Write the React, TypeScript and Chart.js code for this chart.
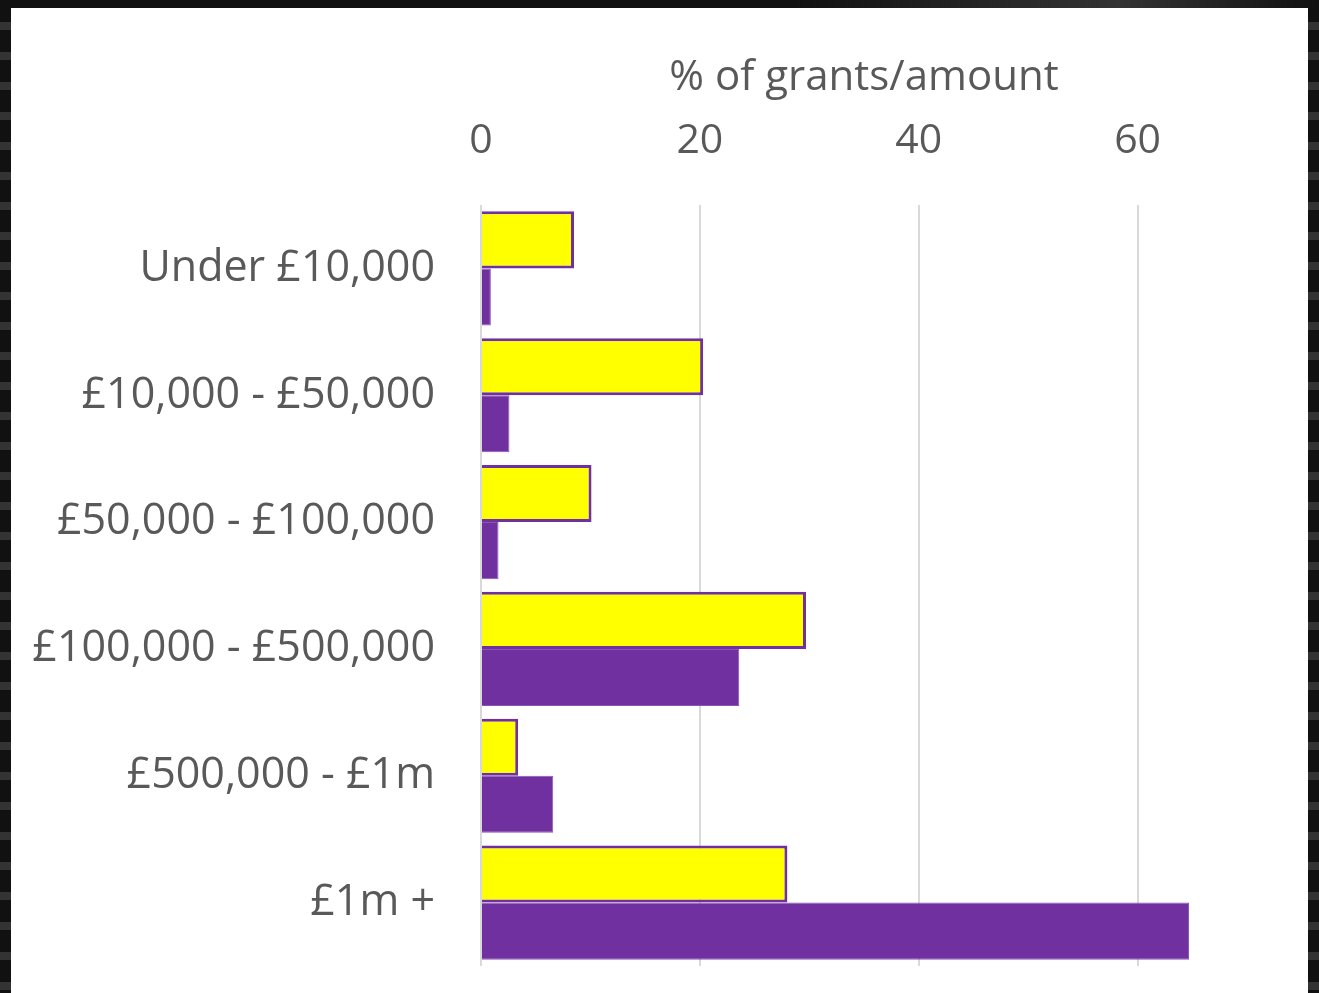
import React, { useEffect, useRef } from "react";
import { Chart, registerables } from "chart.js";

Chart.register(...registerables);

const categories = [
  "Under £10,000",
  "£10,000 - £50,000",
  "£50,000 - £100,000",
  "£100,000 - £500,000",
  "£500,000 - £1m",
  "£1m +",
];
const grantsPct = [8.5, 20.3, 10.1, 29.7, 3.4, 28.0];
const amountPct = [0.9, 2.6, 1.6, 23.6, 6.6, 64.7];
const axisTitle = "% of grants/amount";
const axisMax = 70;
const axisStep = 20;

const FONT = "'Open Sans', 'DejaVu Sans', sans-serif";
const TEXT = "#595959";

export default function App() {
  const ref = useRef<HTMLCanvasElement | null>(null);

  useEffect(() => {
    if (!ref.current) return;
    const chart = new Chart(ref.current, {
      type: "bar",
      data: {
        labels: categories,
        datasets: [
          {
            label: "% of grants",
            data: grantsPct,
            backgroundColor: "#FFFF00",
            borderColor: "#7030A0",
            borderWidth: 3,
            categoryPercentage: 0.9,
            barPercentage: 1.0,
          },
          {
            label: "% of amount",
            data: amountPct,
            backgroundColor: "#7030A0",
            borderColor: "#8a55b8",
            borderWidth: 1,
            categoryPercentage: 0.9,
            barPercentage: 1.0,
          },
        ],
      },
      options: {
        indexAxis: "y",
        responsive: false,
        animation: false,
        maintainAspectRatio: false,
        layout: { padding: { top: 45, right: 61, bottom: 27, left: 0 } },
        plugins: {
          legend: { display: false },
          tooltip: { enabled: false },
        },
        scales: {
          x: {
            position: "top",
            min: 0,
            max: axisMax,
            afterBuildTicks: (scale: any) => {
              scale.ticks = scale.ticks.filter((t: any) => t.value % axisStep === 0);
            },
            afterFit: (scale: any) => {
              scale.height = 152;
              scale.paddingLeft = 0;
              scale.paddingRight = 0;
            },
            ticks: {
              stepSize: axisStep,
              color: TEXT,
              font: { family: FONT, size: 41 },
              padding: 39,
              maxRotation: 0,
            },
            grid: {
              color: "#d9d9d9",
              lineWidth: 2,
              drawTicks: false,
            },
            border: { display: false },
            title: {
              display: true,
              text: axisTitle,
              color: TEXT,
              font: { family: FONT, size: 42 },
              padding: { top: 0, bottom: 12 },
            },
          },
          y: {
            afterFit: (scale: any) => {
              scale.width = 470;
              scale.paddingTop = 0;
              scale.paddingBottom = 0;
            },
            ticks: {
              color: TEXT,
              font: { family: FONT, size: 43 },
              padding: 46,
            },
            grid: { display: false, drawTicks: false },
            border: { display: false },
          },
        },
      },
    });
    return () => chart.destroy();
  }, []);

  return (
    <div
      style={{
        position: "fixed",
        inset: 0,
        background:
          "repeating-linear-gradient(to bottom, #111111 0px, #111111 22px, #333333 22px, #333333 30px)",
      }}
    >
      <div
        style={{
          position: "absolute",
          left: 0,
          right: 0,
          top: 0,
          height: 8,
          background: "linear-gradient(to right, #111111 60%, #333333 85%, #111111 100%)",
        }}
      />
      <div
        style={{
          position: "absolute",
          left: 11,
          top: 8,
          width: 1297,
          height: 985,
          background: "#ffffff",
        }}
      >
        <canvas ref={ref} width={1297} height={985} style={{ display: "block" }} />
      </div>
    </div>
  );
}
